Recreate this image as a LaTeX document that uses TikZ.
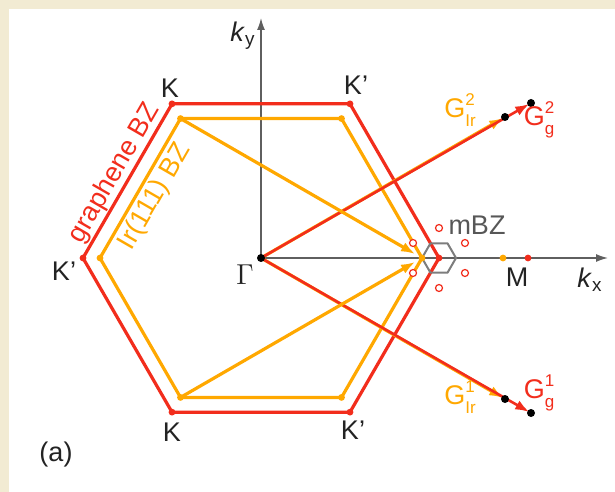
\documentclass[tikz,border=0pt]{standalone}
\usepackage{fontspec}
\setmainfont{Liberation Sans}
\usetikzlibrary{arrows.meta}
\definecolor{grapheneRed}{RGB}{242,45,28}
\definecolor{iridiumOrange}{RGB}{255,168,0}
\definecolor{paperBeige}{RGB}{242,235,211}
\definecolor{axisGray}{RGB}{95,95,95}
\definecolor{mbzGray}{RGB}{125,125,125}
\definecolor{labelGray}{RGB}{35,35,35}
\newcommand{\recip}[2]{G\makebox[0pt][l]{\raisebox{0.85ex}{\fontsize{8.5}{9}\selectfont #1}}\raisebox{-0.6ex}{\fontsize{8.5}{9}\selectfont #2}}

\begin{document}
\begin{tikzpicture}[x=0.5pt,y=0.5pt,
    font=\fontsize{13.5}{16}\selectfont,
    zone/.style={line width=1.6pt,line join=round},
    gvec/.style={grapheneRed,line width=1.3pt,-{Latex[length=7pt,width=5pt]},shorten >=1pt},
    irvec/.style={iridiumOrange,line width=1.6pt,-{Latex[length=7pt,width=5pt]},shorten >=1pt},
    axis/.style={axisGray,line width=0.7pt,-{Latex[length=6pt,width=4pt]}},
    vdot/.style={circle,fill,inner sep=0pt,minimum size=3.4pt},
    enddot/.style={circle,fill=black,inner sep=0pt,minimum size=4pt},
    mspot/.style={circle,draw=grapheneRed,fill=white,line width=0.6pt,inner sep=0pt,minimum size=3.5pt},
    pt/.style={text=labelGray}]
  % backdrop
  \fill[paperBeige] (-261,-234) rectangle (354,258);
  \fill[white] (-252,-234) rectangle (354,249);
  \useasboundingbox (-261,-234) rectangle (354,258);

  % axes
  \coordinate (Gam) at (0,0);
  \coordinate (kxEnd) at (347,0);
  \coordinate (kyEnd) at (0,240);
  \draw[axis] (Gam) -- (kxEnd);
  \draw[axis] (Gam) -- (kyEnd);

  % Brillouin zones
  \foreach \a in {0,60,...,300}{
    \coordinate (g\a) at (\a:178);
    \coordinate (i\a) at (\a:161);
  }
  \draw[zone,grapheneRed] (g0) -- (g60) -- (g120) -- (g180) -- (g240) -- (g300) -- cycle;
  \draw[zone,iridiumOrange] (i0) -- (i60) -- (i120) -- (i180) -- (i240) -- (i300) -- cycle;
  \path (g180) -- (g120) node[midway,sloped,above,inner sep=1pt,text=grapheneRed] (gLab) {graphene BZ};
  \path (i180) -- (i120) node[midway,sloped,below,inner sep=2pt,text=iridiumOrange] (iLab) {Ir(111) BZ};

  % moire zone
  \draw[mbzGray,line width=1pt,line join=round,shift={(g0)}]
    (0:17) -- (60:17) -- (120:17) -- (180:17) -- (240:17) -- (300:17) -- cycle;
  \foreach \a in {30,90,...,330}
    \node[mspot] (m\a) at ([shift={(\a:30)}]g0) {};

  % reciprocal lattice vectors
  \coordinate (Gg2) at (270,155);
  \coordinate (Gg1) at (270,-155);
  \coordinate (Gi2) at (244,141);
  \coordinate (Gi1) at (244,-141);
  \draw[irvec] (Gam) -- (Gi2);
  \draw[irvec] (Gam) -- (Gi1);
  \draw[gvec] (Gam) -- (Gg2);
  \draw[gvec] (Gam) -- (Gg1);
  \draw[irvec,shorten >=4pt] (i120) -- (i0);
  \draw[irvec,shorten >=4pt] (i240) -- (i0);

  % points
  \foreach \a in {0,60,...,300}{
    \node[vdot,grapheneRed] (gd\a) at (g\a) {};
    \node[vdot,iridiumOrange] (id\a) at (i\a) {};
  }
  \node[vdot,iridiumOrange] (Mi) at (242,0) {};
  \node[vdot,grapheneRed] (Mg) at (267,0) {};
  \foreach \p in {Gg1,Gg2,Gi1,Gi2,Gam}
    \node[enddot] (d\p) at (\p) {};

  % labels
  \node[pt] (lK1) at (-91,170) {K};
  \node[pt] (lK2) at (95,173) {K'};
  \node[pt] (lK3) at (-197,-13) {K'};
  \node[pt] (lK4) at (-89,-174) {K};
  \node[pt] (lK5) at (92,-172) {K'};
  \node[pt] (lGam) at (-16,-17) {$\Gamma$};
  \node[pt] (lM) at (256,-19) {M};
  \node[text=mbzGray!70!black] (lmBZ) at (216,33) {mBZ};
  \node[pt] (lkx) at (329,-22) {\textit{k}\textsubscript{x}};
  \node[pt] (lky) at (-18,222) {\textit{k}\textsubscript{y}};
  \node[text=iridiumOrange] (lGi2) at (199,148) {\recip{2}{Ir}};
  \node[text=iridiumOrange] (lGi1) at (199,-139) {\recip{1}{Ir}};
  \node[text=grapheneRed] (lGg2) at (278,138) {\recip{2}{g}};
  \node[text=grapheneRed] (lGg1) at (278,-135) {\recip{1}{g}};
  \node[pt] (lPanel) at (-205,-197) {(a)};
\end{tikzpicture}
\end{document}
